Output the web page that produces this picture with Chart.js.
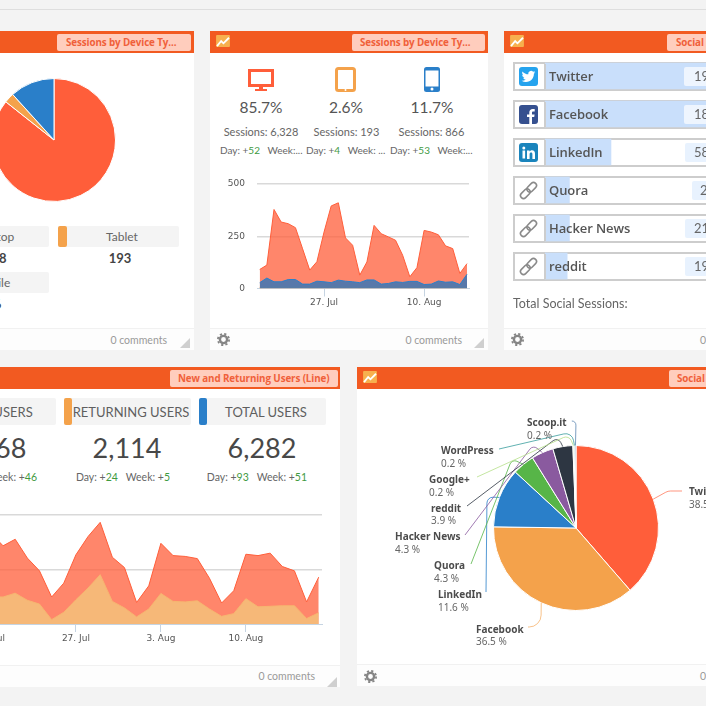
<!DOCTYPE html>
<html><head><meta charset="utf-8">
<script src="https://cdn.jsdelivr.net/npm/chart.js@4"></script>
<style>
html,body{margin:0;padding:0;background:#f3f3f3;overflow:hidden}
#root{position:absolute;left:0;top:0;width:706px;height:706px;overflow:hidden;background:#f3f3f3;font-family:Lato,sans-serif;color:#5a5a5a;filter:blur(.3px)}
.a{position:absolute}
.t{position:absolute;white-space:nowrap;line-height:1}
canvas{position:absolute;display:block}
</style></head><body><div id="root"></div>
<script>
// ---------- data ----------
const deviceNames = ['Desktop','Tablet','Mobile'];
const deviceSessions = [6328,193,866];
const devicePercent = ['85.7%','2.6%','11.7%'];
const deviceDay = ['+52','+4','+53'];
const deviceWeek = ['Week:...','Week: ...','Week:...'];
const dates = ['18. Jul','19. Jul','20. Jul','21. Jul','22. Jul','23. Jul','24. Jul','25. Jul','26. Jul','27. Jul','28. Jul','29. Jul','30. Jul','31. Jul','1. Aug','2. Aug','3. Aug','4. Aug','5. Aug','6. Aug','7. Aug','8. Aug','9. Aug','10. Aug','11. Aug','12. Aug','13. Aug','14. Aug','15. Aug','16. Aug'];
const desktopDaily = [91,112,378,318,310,291,190,88,128,270,395,410,242,207,64,127,302,262,247,231,159,56,100,278,270,257,204,191,72,119];
const tabletDaily = [4,6,7,8,6,7,6,4,5,7,8,9,7,6,4,5,8,7,6,7,6,4,5,8,7,6,7,6,4,5];
const mobileDaily = [28,50,32,32,43,43,21,21,35,32,28,40,35,32,28,41,41,21,24,32,29,34,34,19,21,36,30,32,19,68];
const usersNew = [80,100,333,287,311,242,195,99,150,254,321,373,245,207,79,140,296,251,248,240,168,77,122,256,251,260,211,195,81,172];
const usersReturning = [30,40,100,99,113,87,73,16,43,89,132,181,83,59,26,55,112,83,81,85,55,28,38,93,63,65,67,67,20,41];
const socialNames = ['Twitter','Facebook','LinkedIn','Quora','Hacker News','reddit'];
const socialSessions = [1947,1847,586,217,217,197];
const socialShown = ['19','18','58','2','21','19'];
const pieNames = ['Twitter','Facebook','LinkedIn','Quora','Hacker News','reddit','Google+','WordPress','Scoop.it'];
const piePercent = [38.5,36.5,11.6,4.3,4.3,3.9,0.2,0.2,0.2];
const userBoxes = ['NEW USERS','RETURNING USERS','TOTAL USERS'];
const userTotals = ['4,168','2,114','6,282'];
const userDay = ['+69','+24','+93'];
const userWeek = ['+46','+5','+51'];

// ---------- palette ----------
const RED='#FF5E3A',ORG='#F4A24B',BLU='#2A7FC9',GRN='#3f9a3f';
const pieColors=[RED,ORG,BLU,'#57B548','#8A5A9F','#2D3642','#B5E08A','#3A9E9E','#5B86B0'];
const root=document.getElementById('root');

function box(x,y,w,h,css){const d=document.createElement('div');d.className='a';d.style.cssText+=`left:${x}px;top:${y}px;width:${w}px;height:${h}px;${css||''}`;root.appendChild(d);return d}
function txt(x,y,s,css,align){const d=document.createElement('div');d.className='t';const tx=align==='c'?'-50%':align==='r'?'-100%':'0';d.style.cssText+=`left:${x}px;top:${y}px;transform:translate(${tx},-50%);${css||''}`;d.innerHTML=s;root.appendChild(d);return d}
function svg(x,y,w,h,vb,inner){const d=document.createElement('div');d.className='a';d.style.cssText+=`left:${x}px;top:${y}px;width:${w}px;height:${h}px`;d.innerHTML=`<svg xmlns="http://www.w3.org/2000/svg" width="${w}" height="${h}" viewBox="${vb}" style="display:block">${inner}</svg>`;root.appendChild(d);return d}
function cv(x,y,w,h){const c=document.createElement('canvas');c.width=w;c.height=h;c.style.cssText=`left:${x}px;top:${y}px;width:${w}px;height:${h}px`;root.appendChild(c);return c}
const logo=(x,y)=>svg(x,y,14,12,'0 0 15 13','<rect width="15" height="13" rx="1" fill="#F7B04E"/><polyline points="1,12 5.5,6.5 8,9 14,3" fill="none" stroke="#fff" stroke-width="2"/>');
const gear=(x,y)=>svg(x,y,13,13,'0 0 13 13','<circle cx="6.5" cy="6.5" r="3.6" fill="none" stroke="#858585" stroke-width="2.4"/><circle cx="6.5" cy="6.5" r="5.6" fill="none" stroke="#858585" stroke-width="1.8" stroke-dasharray="2.2 2.2"/>');
const corner=(x,y)=>svg(x,y,10,10,'0 0 10 10','<polygon points="10,0 10,10 0,10" fill="#cfcfcf"/>');
function panel(x,w,y,h,btnX,btnW,btnText,textX){
  box(x,y,w,h,'background:#fff');
  box(x,y,w,22,'background:#F25A21');
  box(btnX,y+3,btnW,17,'background:#FFCDBD;border-radius:2px');
  txt(textX,y+11,btnText,'font:700 9.8px "Open Sans",sans-serif;color:#F0603A;letter-spacing:-.1px');
  box(x,y+h-22,w,22,'background:#fdfdfd;border-top:1px solid #f1f1f1;box-sizing:border-box');
  logo(x+6,y+4);
}
box(0,9,706,1,'background:#dedede');
panel(-60,254,31,319,57,134,'Sessions by Device Ty...',66);
panel(210,278,31,319,352,133,'Sessions by Device Ty...',360);
panel(504,260,31,319,667,150,'Social',676);
panel(-60,400,367,320,170,168,'New and Returning Users (Line)',178);
panel(357,400,367,319,669,150,'Social',677);

const foot='font-size:10.5px;color:#9a9a9a';
txt(167,339.5,'0 comments',foot,'r');corner(180,338);
gear(217,333);txt(462,339.5,'0 comments',foot,'r');corner(474,338);
gear(511,333);txt(700,339.5,'0 comments',foot);
txt(315,676,'0 comments',foot,'r');corner(327,677);
gear(364,670);txt(700,676,'0 comments',foot);

// ---------- panel 1 ----------
new Chart(cv(-16,70,140,140),{type:'pie',data:{labels:deviceNames,datasets:[{data:deviceSessions,backgroundColor:[RED,ORG,BLU],borderColor:'#fff',borderWidth:1}]},
 options:{responsive:false,animation:false,layout:{padding:8},plugins:{legend:{display:false},tooltip:{enabled:false}}}});
[[-72,226,0],[58,226,1],[-72,272,2]].forEach(([x,y,i])=>{
  box(x,y,121,21,'background:#f4f4f4;border-radius:2px');
  box(x,y,9,21,`background:${[RED,ORG,BLU][i]};border-radius:2px`);
  txt(x+64,y+10.5,deviceNames[i],'font-size:12px;color:#666','c');
  txt(x+62,y+32,deviceSessions[i].toLocaleString('en-US'),'font-size:13px;font-weight:700;color:#444','c');
});

// ---------- panel 2 ----------
svg(248,69,26,22,'0 0 26 22',`<rect x="1.5" y="1.5" width="23" height="15" fill="none" stroke="${RED}" stroke-width="3"/><rect x="11" y="17" width="4" height="3" fill="${RED}"/><rect x="7" y="20" width="12" height="2" fill="${RED}"/>`);
svg(335,67,21,25,'0 0 21 25',`<rect x="1.5" y="1.5" width="18" height="22" rx="2" fill="none" stroke="${ORG}" stroke-width="3"/><circle cx="10.5" cy="23" r="1" fill="#fff"/>`);
svg(424,67,16,25,'0 0 16 25',`<rect width="16" height="25" rx="2.5" fill="${BLU}"/><rect x="1.5" y="3.5" width="13" height="16" fill="#fff"/><circle cx="8" cy="22" r="1.5" fill="#fff"/>`);
[261,346,432].forEach((x,i)=>txt(x,108,devicePercent[i],'font-size:15.5px;color:#555','c'));
[261,346.5,431.5].forEach((x,i)=>txt(x,130.5,'Sessions: '+deviceSessions[i].toLocaleString('en-US'),'font-size:11px;color:#666','c'));
[220,306,390].forEach((x,i)=>txt(x,149.5,`Day: +<span style="color:${GRN}">${deviceDay[i].slice(1)}</span>&nbsp;&nbsp;&nbsp;${deviceWeek[i]}`,'font-size:10px;color:#666'));

const tickFont={family:'"DejaVu Sans",sans-serif',size:9};
function areaOpts(min,max,yMax,yStep,tickIdx,yW,xH,pad){
 return {responsive:false,animation:false,layout:{padding:pad},plugins:{legend:{display:false},tooltip:{enabled:false}},
  elements:{point:{radius:0},line:{tension:0,borderWidth:1}},
  scales:{
   x:{type:'linear',min,max,afterFit:s=>{s.height=xH},afterBuildTicks:s=>{s.ticks=tickIdx.map(v=>({value:v}))},
      border:{color:'#C6D4E2'},grid:{drawOnChartArea:false,tickLength:8,color:'#C6D4E2'},
      ticks:{autoSkip:false,maxRotation:0,padding:1,color:'#555',font:tickFont,callback:v=>dates[v]}},
   y:{min:0,max:yMax,afterFit:s=>{s.width=yW},border:{display:false},
      grid:{drawTicks:true,tickLength:12,tickColor:'rgba(0,0,0,0)',lineWidth:1.5,color:c=>c.tick.value===0?'rgba(0,0,0,0)':'#d9d9d9'},
      ticks:{stepSize:yStep,padding:0,color:'#555',font:tickFont,callback:v=>v}}}};
}
const pts=a=>a.map((y,x)=>({x,y}));
new Chart(cv(210,170,278,150),{type:'line',data:{datasets:[
  {label:'Mobile',data:pts(mobileDaily),order:1,fill:'origin',borderColor:BLU,backgroundColor:'rgba(60,118,180,.86)'},
  {label:'Tablet',data:pts(tabletDaily),order:2,fill:'origin',borderColor:ORG,backgroundColor:'rgba(244,162,75,.5)'},
  {label:'Desktop',data:pts(desktopDaily),order:3,fill:'origin',borderColor:RED,backgroundColor:'rgba(255,94,58,.75)'}]},
  options:areaOpts(-0.38,29.28,500,250,[9,23],47,31.5,{top:14,right:19,left:0,bottom:0})});

// ---------- panel 3 ----------
socialNames.forEach((n,i)=>{const y=62+38*i;
  box(513,y,300,29,'border:2px solid #cdcdcd;box-sizing:border-box;background:#fff');
});
new Chart(cv(545,57,161,228),{type:'bar',data:{labels:socialNames,datasets:[{data:socialSessions,backgroundColor:'#C9DFFB',barThickness:26}]},
  options:{indexAxis:'y',responsive:false,animation:false,layout:{padding:0},plugins:{legend:{display:false},tooltip:{enabled:false}},
   scales:{x:{display:false,min:0,max:1430},y:{display:false}}}});
socialNames.forEach((n,i)=>{const y=62+38*i;
  box(544,y+2,1.5,25,'background:#cdcdcd');
  txt(549,y+14,n,'font:600 13px "Open Sans",sans-serif;color:#555;letter-spacing:-.1px');
  const wide=[684,684,685,692,685,685][i];
  box(wide,y+5,40,19,`background:${i<2?'#eef5fe':'#e8f2fe'};border-radius:2px`);
  txt(694+(i===3?6:0),y+14,socialShown[i],'font-size:13px;color:#666');
  const ix=519,iy=y+5;
  if(i===0)svg(ix,iy,19,19,'0 0 19 19','<rect width="19" height="19" rx="3" fill="#25A3EE"/><g transform="translate(2.6,2.6) scale(.57)"><path fill="#fff" d="M23.95 4.57a10 10 0 01-2.82.77 4.96 4.96 0 002.16-2.72c-.95.55-2 .96-3.13 1.18a4.92 4.92 0 00-8.38 4.48C7.69 8.1 4.07 6.13 1.64 3.16a4.82 4.82 0 00-.67 2.48c0 1.71.87 3.21 2.19 4.1a4.9 4.9 0 01-2.23-.62v.06a4.92 4.92 0 003.95 4.83 5 5 0 01-2.21.08 4.94 4.94 0 004.6 3.42 9.87 9.87 0 01-6.1 2.1c-.39 0-.78-.02-1.17-.07a13.9 13.9 0 007.55 2.21c9.05 0 14-7.5 14-13.99 0-.21 0-.42-.02-.63a10 10 0 002.46-2.55z"/></g>');
  else if(i===1)svg(ix,iy,19,19,'0 0 19 19','<rect width="19" height="19" rx="3" fill="#35508F"/><path d="M13 19v-7h2.2l.4-2.6H13V7.8c0-.8.3-1.3 1.3-1.3h1.4V4.1c-.3 0-1-.1-2-.1-2 0-3.4 1.2-3.4 3.5v1.9H8V12h2.3v7z" fill="#fff"/>');
  else if(i===2)svg(ix,iy,19,19,'0 0 19 19','<rect width="19" height="19" rx="3" fill="#1A84BC"/><rect x="3.5" y="7.5" width="2.6" height="8" fill="#fff"/><circle cx="4.8" cy="4.9" r="1.5" fill="#fff"/><path d="M8 7.5h2.5v1.2c.5-.8 1.4-1.4 2.6-1.4 2 0 2.9 1.3 2.9 3.4v5.3h-2.6v-4.8c0-1-.4-1.7-1.3-1.7s-1.5.7-1.5 1.7v4.8H8z" fill="#fff"/>');
  else svg(ix,iy,19,19,'0 0 19 19','<g transform="rotate(-45 9.5 9.5)" fill="none" stroke="#8a8a8a" stroke-width="1.6"><rect x="-.5" y="6.5" width="11" height="6" rx="3"/><rect x="8.5" y="6.5" width="11" height="6" rx="3"/></g>');
});
txt(513,303.5,'Total Social Sessions:','font-size:12.5px;color:#666');

// ---------- panel 4 ----------
[[-71,0],[64,1],[199,2]].forEach(([x,i])=>{
  box(x,398,127,27,'background:#f4f4f4;border-radius:2px');
  box(x,398,8,27,`background:${[RED,ORG,BLU][i]};border-radius:2px`);
  txt(x+67,411.5,userBoxes[i],'font-size:13px;color:#5f5f5f','c');
  txt(x+63,447,userTotals[i],'font-size:27px;color:#484848','c');
});
[[37,0],[170,1],[307,2]].forEach(([x,i])=>txt(x,476.5,`Day: +<span style="color:${GRN}">${userDay[i].slice(1)}</span>&nbsp;&nbsp;&nbsp;Week: +<span style="color:${GRN}">${userWeek[i].slice(1)}</span>`,'font-size:10.5px;color:#666','r'));
new Chart(cv(-80,500,420,154),{type:'line',data:{datasets:[
  {label:'Returning Users',data:pts(usersReturning),order:1,fill:'origin',borderColor:'#F6B56F',backgroundColor:'rgba(246,186,122,.96)'},
  {label:'New Users',data:pts(usersNew),order:2,fill:'origin',borderColor:RED,backgroundColor:'rgba(255,94,58,.75)'}]},
  options:areaOpts(-0.3,29.27,400,200,[2,9,16,23],43,30,{top:15,right:18,left:0,bottom:0})});

// ---------- panel 5 ----------
const labelPos=[[689,491],[476,628.5],[438,594],[434,565],[395,536],[431,507.5],[429,479],[441,450],[527,422]];
const connectorEnd=[[682,491],[528,627],[486,592],[471,564],[465,535],[467,506],[477,477],[499,449],[572,421]];
const connectorVia=[[668,491],[541,627],[487,497],[512,459],[533,445],[558,437],[569,435],[572,432],[576,421]];
const connectorRadius=[10,12,6,5,5,5,6,8,4];
const P5X=357,P5Y=390;
const connectors={id:'connectors',afterDatasetsDraw(chart){
  const ctx=chart.ctx,arcs=chart.getDatasetMeta(0).data;
  ctx.save();ctx.lineWidth=1;
  arcs.forEach((a,i)=>{
    const {x,y,startAngle,endAngle,outerRadius}=a.getProps(['x','y','startAngle','endAngle','outerRadius']);
    const m=(startAngle+endAngle)/2,sx=x+Math.cos(m)*outerRadius,sy=y+Math.sin(m)*outerRadius;
    const e=connectorEnd[i],v=connectorVia[i];
    ctx.strokeStyle=pieColors[i];ctx.globalAlpha=i<2?.65:.8;
    ctx.beginPath();ctx.moveTo(e[0]-P5X,e[1]-P5Y);
    ctx.arcTo(v[0]-P5X,v[1]-P5Y,sx,sy,connectorRadius[i]);ctx.lineTo(sx,sy);ctx.stroke();
  });
  ctx.restore();
}};
new Chart(cv(P5X,P5Y,349,272),{type:'pie',plugins:[connectors],data:{labels:pieNames,datasets:[{data:piePercent,backgroundColor:pieColors,borderColor:'#fff',borderWidth:1}]},
  options:{responsive:false,animation:false,layout:{padding:{left:136,right:47,top:55,bottom:51}},plugins:{legend:{display:false},tooltip:{enabled:false}}}});
pieNames.forEach((n,i)=>{const [x,y]=labelPos[i];
  txt(x,y,n,'font:700 10px "Noto Sans",sans-serif;color:#4c4c4c');
  txt(x,y+12.8,piePercent[i].toFixed(1)+' %','font:10px "Noto Sans",sans-serif;color:#666');
});
</script></body></html>
